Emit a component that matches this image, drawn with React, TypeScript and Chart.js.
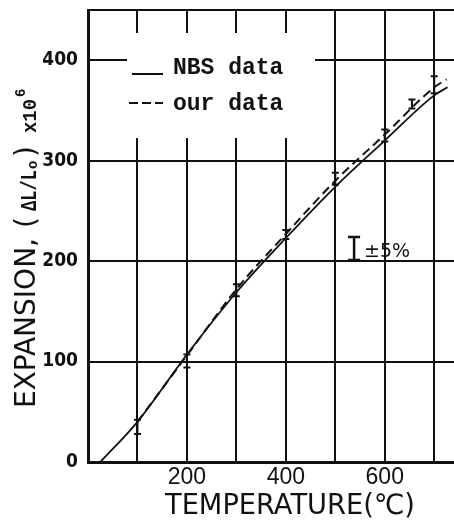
import React, { useEffect, useRef } from 'react';
import { Chart, registerables } from 'chart.js';

Chart.register(...registerables);

// NBS reference curve (solid)
const nbsTemp = [25, 100, 200, 300, 400, 500, 600, 700, 727];
const nbsExp = [0, 40, 107, 169, 223, 274, 320, 365, 373];
// our measured curve (dashed)
const ourTemp = [100, 200, 300, 400, 500, 600, 700, 725];
const ourExp = [40, 106, 172, 227, 280, 326, 373, 381];
// error bars of our data
const errTemp = [100, 200, 300, 400, 500, 600, 655, 700];
const errLow = [28, 94, 165, 222, 276, 319, 352, 367];
const errHigh = [42, 107, 177, 231, 288, 331, 361, 384];
// tick labels
const xTickLabels = [200, 400, 600];
const yTickLabels = [0, 100, 200, 300, 400];
// legend / annotation texts
const legendLabels = ['NBS data', 'our data'];
const tolTemp = [538];
const tolRange = [201, 224];
const tolLabel = '±5%';
const xTitle = 'TEMPERATURE(℃)';

const INK = '#111';

const overlay = {
  id: 'overlay',
  beforeDatasetsDraw(chart: any) {
    const { ctx, chartArea: a } = chart;
    ctx.save();
    ctx.fillStyle = '#fff';
    ctx.fillRect(a.left + 39, a.top + 23, 188, 105);
    ctx.restore();
  },
  afterDatasetsDraw(chart: any) {
    const { ctx, chartArea: a, scales } = chart;
    const x = scales.x;
    const y = scales.y;
    ctx.save();
    ctx.strokeStyle = INK;
    ctx.fillStyle = INK;
    ctx.lineWidth = 2;
    // error bars
    errTemp.forEach((t, i) => {
      const px = x.getPixelForValue(t);
      const y1 = y.getPixelForValue(errLow[i]);
      const y2 = y.getPixelForValue(errHigh[i]);
      ctx.beginPath();
      ctx.moveTo(px, y1);
      ctx.lineTo(px, y2);
      ctx.moveTo(px - 3.5, y1);
      ctx.lineTo(px + 3.5, y1);
      ctx.moveTo(px - 3.5, y2);
      ctx.lineTo(px + 3.5, y2);
      ctx.stroke();
    });
    // tolerance symbol
    const tx = x.getPixelForValue(tolTemp[0]);
    const ty1 = y.getPixelForValue(tolRange[0]);
    const ty2 = y.getPixelForValue(tolRange[1]);
    ctx.lineWidth = 2.5;
    ctx.beginPath();
    ctx.moveTo(tx, ty1);
    ctx.lineTo(tx, ty2);
    ctx.moveTo(tx - 6, ty1);
    ctx.lineTo(tx + 6, ty1);
    ctx.moveTo(tx - 6, ty2);
    ctx.lineTo(tx + 6, ty2);
    ctx.stroke();
    ctx.font = '19px "DejaVu Sans", sans-serif';
    ctx.textBaseline = 'alphabetic';
    ctx.textAlign = 'left';
    ctx.fillText(tolLabel, tx + 10, ty1 - 3);

    // legend
    ctx.lineWidth = 2;
    ctx.beginPath();
    ctx.moveTo(a.left + 44, a.top + 64);
    ctx.lineTo(a.left + 75, a.top + 64);
    ctx.stroke();
    ctx.setLineDash([9, 4]);
    ctx.beginPath();
    ctx.moveTo(a.left + 41, a.top + 93);
    ctx.lineTo(a.left + 75, a.top + 93);
    ctx.stroke();
    ctx.setLineDash([]);
    ctx.font = 'bold 23px "Liberation Mono", monospace';
    ctx.fillText(legendLabels[0], a.left + 85, a.top + 64);
    ctx.fillText(legendLabels[1], a.left + 85, a.top + 100);
    ctx.restore();
  },
  afterDraw(chart: any) {
    const { ctx, chartArea: a } = chart;
    ctx.save();
    ctx.fillStyle = INK;
    ctx.textAlign = 'left';
    ctx.textBaseline = 'alphabetic';
    // x title
    ctx.font = '28px "DejaVu Sans", sans-serif';
    ctx.fillText(xTitle, a.left + 77, a.bottom + 52, 250);
    // y title (rotated)
    ctx.translate(35, a.bottom - 54);
    ctx.rotate(-Math.PI / 2);
    ctx.font = '28px "DejaVu Sans", sans-serif';
    ctx.fillText('EXPANSION,', 0, 0, 178);
    ctx.fillText('(', 180, 0);
    ctx.font = 'bold 22px "Liberation Mono", monospace';
    ctx.fillText('ΔL/L', 197, 1, 41);
    ctx.font = 'bold 14px "Liberation Mono", monospace';
    ctx.fillText('o', 239, 2);
    ctx.font = '28px "DejaVu Sans", sans-serif';
    ctx.fillText(')', 251, 0);
    ctx.font = 'bold 21px "Liberation Mono", monospace';
    ctx.fillText('x10', 275, 1, 34);
    ctx.font = 'bold 14px "Liberation Mono", monospace';
    ctx.fillText('6', 311, -10);
    ctx.restore();
  },
};

export default function App() {
  const ref = useRef<HTMLCanvasElement>(null);
  useEffect(() => {
    if (!ref.current) return;
    const chart = new Chart(ref.current, {
      type: 'line',
      data: {
        datasets: [
          {
            label: legendLabels[0],
            data: nbsTemp.map((t, i) => ({ x: t, y: nbsExp[i] })),
            borderColor: INK,
            borderWidth: 1.8,
            pointRadius: 0,
            cubicInterpolationMode: 'monotone',
            fill: false,
          },
          {
            label: legendLabels[1],
            data: ourTemp.map((t, i) => ({ x: t, y: ourExp[i] })),
            borderColor: INK,
            borderWidth: 2,
            borderDash: [9, 5],
            pointRadius: 0,
            cubicInterpolationMode: 'monotone',
            fill: false,
          },
        ],
      },
      options: {
        responsive: false,
        devicePixelRatio: 1,
        animation: false,
        layout: { padding: { top: 10, left: 0, right: 0, bottom: 0 } },
        plugins: { legend: { display: false }, tooltip: { enabled: false } },
        scales: {
          x: {
            type: 'linear',
            min: 0,
            max: 740,
            ticks: {
              stepSize: 100,
              includeBounds: false,
              autoSkip: false,
              maxRotation: 0,
              padding: 2,
              color: INK,
              font: { family: '"Liberation Sans", Arial, sans-serif', size: 23 },
              callback: (v: any) => (xTickLabels.includes(v) ? String(v) : ''),
            },
            grid: { color: INK, lineWidth: 2, drawTicks: false },
            border: { display: true, color: INK, width: 3 },
            afterFit: (s: any) => {
              s.height = 60;
              s.paddingLeft = 0;
              s.paddingRight = 0;
            },
          },
          y: {
            type: 'linear',
            min: 0,
            max: 450,
            ticks: {
              stepSize: 100,
              autoSkip: false,
              padding: 10,
              color: INK,
              font: {
                family: '"DejaVu Sans Condensed", "DejaVu Sans", sans-serif',
                size: 19,
                weight: 'bold',
                lineHeight: 1,
              },
              callback: (v: any) => (yTickLabels.includes(v) ? String(v) : ''),
            },
            grid: { color: INK, lineWidth: 2, drawTicks: false },
            border: { display: true, color: INK, width: 3 },
            afterFit: (s: any) => {
              s.width = 88;
              s.paddingTop = 0;
              s.paddingBottom = 0;
            },
          },
        },
      } as any,
      plugins: [overlay],
    });
    return () => chart.destroy();
  }, []);
  return (
    <div style={{ position: 'absolute', left: 0, top: 0, width: 454, height: 522, background: '#fff' }}>
      <canvas ref={ref} width={454} height={522} style={{ display: 'block' }} />
    </div>
  );
}
